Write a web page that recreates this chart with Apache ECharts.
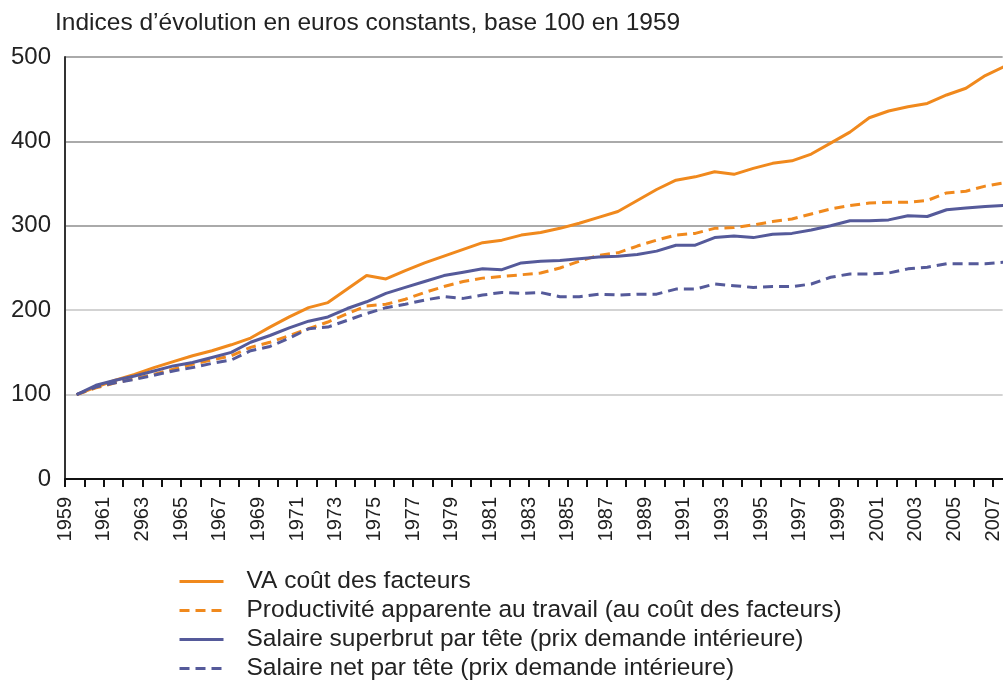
<!DOCTYPE html>
<html lang="fr">
<head>
    <meta charset="UTF-8">
    <title>Indices d'évolution</title>
    <script src="https://cdn.jsdelivr.net/npm/echarts@6/dist/echarts.min.js"></script>
    <style>
        html, body { margin: 0; padding: 0; background: #fff; }
        #main { width: 1003px; height: 689px; }
    </style>
</head>
<body>
<div id="main"></div>
<script>
    // annees 1959..2007
    var years = [];
    for (var y = 1959; y <= 2007; y++) years.push(y);

    var tickLabels = ['1959', '1961', '2963', '1965', '1967', '1969', '1971', '1973', '1975', '1977',
        '1979', '1981', '1983', '1985', '1987', '1989', '1991', '1993', '1995', '1997',
        '1999', '2001', '2003', '2005', '2007'];

    var vaCout = [100, 109, 117, 124, 132, 139, 146, 152, 159, 167,
        180, 192, 203, 209, 225, 241, 237, 247, 256, 264,
        272, 280, 283, 289, 292, 297, 303, 310, 317, 330,
        343, 354, 358, 364, 361, 368, 374, 377, 385, 398,
        411, 428, 436, 441, 445, 455, 463, 478, 489];

    var productivite = [100, 108, 114, 119, 124, 130, 136, 141, 146, 156,
        162, 170, 178, 186, 196, 205, 207, 213, 221, 228,
        234, 238, 240, 242, 244, 250, 258, 265, 268, 276,
        283, 289, 291, 297, 298, 301, 305, 308, 314, 320,
        324, 327, 328, 328, 330, 339, 341, 347, 351];

    var salaireSuperbrut = [100, 111, 117, 122, 128, 134, 138, 144, 150, 162,
        170, 179, 187, 192, 202, 210, 220, 227, 234, 241,
        245, 249, 248, 256, 258, 259, 261, 263, 264, 266,
        270, 277, 277, 286, 288, 286, 290, 291, 295, 300,
        306, 306, 307, 312, 311, 319, 321, 323, 324];

    var salaireNet = [100, 109, 114, 118, 123, 128, 132, 137, 141, 152,
        157, 167, 178, 180, 188, 196, 203, 207, 212, 216,
        214, 218, 221, 220, 221, 216, 216, 219, 218, 219,
        219, 225, 225, 231, 229, 227, 228, 228, 231, 239,
        243, 243, 244, 249, 251, 255, 255, 255, 257];

    var ORANGE = '#f0891d';
    var BLUE = '#555a9a';
    var FONT = 'Liberation Sans, Arial, sans-serif';

    // les points sont decales par rapport aux graduations (comme dans le graphique d'origine)
    function pairs(vals) {
        return vals.map(function (v, i) { return [years[i] + 0.6, v]; });
    }

    function serie(name, vals, color, dashed) {
        return {
            name: name,
            type: 'line',
            data: pairs(vals),
            symbol: 'none',
            lineStyle: { color: color, width: 3, type: dashed ? [10, 6] : 'solid' },
            itemStyle: { color: color },
            emphasis: { disabled: true }
        };
    }

    var myChart = echarts.init(document.getElementById('main'));
    var option = {
        animation: false,
        backgroundColor: '#fff',
        title: {
            text: 'Indices d\u2019évolution en euros constants, base 100 en 1959',
            left: 50,
            top: 6,
            textStyle: { fontFamily: FONT, fontSize: 24.5, fontWeight: 'normal', color: '#222' }
        },
        legend: {
            orient: 'vertical',
            left: 178,
            top: 569,
            padding: 0,
            itemWidth: 44,
            itemHeight: 14,
            itemGap: 4,
            itemStyle: { opacity: 0 },
            lineStyle: { width: 3 },
            textStyle: { fontFamily: FONT, fontSize: 24.5, color: '#222', lineHeight: 24, padding: [0, 0, 0, 18] },
            data: ['VA coût des facteurs',
                'Productivité apparente au travail (au coût des facteurs)',
                'Salaire superbrut par tête (prix demande intérieure)',
                'Salaire net par tête (prix demande intérieure)']
        },
        grid: { left: 65, right: 0, top: 57, bottom: 210, containLabel: false },
        xAxis: {
            type: 'value',
            min: 1959,
            max: 2007.5,
            interval: 1,
            axisLine: { show: true, lineStyle: { color: '#111', width: 2 } },
            axisTick: { show: true, length: 8, lineStyle: { color: '#111', width: 2 } },
            splitLine: { show: false },
            axisLabel: {
                rotate: 90,
                margin: 18,
                showMaxLabel: false,
                fontFamily: FONT,
                fontSize: 20,
                color: '#222',
                formatter: function (v) {
                    var k = Math.round(v) - 1959;
                    if (k % 2 !== 0) return '';
                    return tickLabels[k / 2] || '';
                }
            }
        },
        yAxis: {
            type: 'value',
            min: 0,
            max: 500,
            interval: 100,
            axisLine: { show: true, lineStyle: { color: '#333', width: 2 } },
            axisTick: { show: false },
            splitLine: {
                show: true,
                lineStyle: { color: ['#111', '#c4c4c4', '#c4c4c4', '#8e8e8e', '#8e8e8e', '#8e8e8e'], width: 1.5 }
            },
            axisLabel: { fontFamily: FONT, fontSize: 24, color: '#222', margin: 14 }
        },
        series: [
            serie('VA coût des facteurs', vaCout, ORANGE, false),
            serie('Productivité apparente au travail (au coût des facteurs)', productivite, ORANGE, true),
            serie('Salaire superbrut par tête (prix demande intérieure)', salaireSuperbrut, BLUE, false),
            serie('Salaire net par tête (prix demande intérieure)', salaireNet, BLUE, true)
        ]
    };
    myChart.setOption(option);
</script>
</body>
</html>
